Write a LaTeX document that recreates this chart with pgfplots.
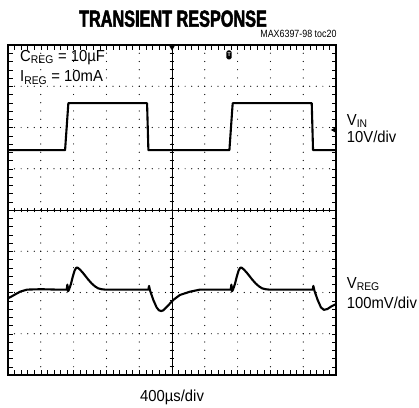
\documentclass[border=0pt]{standalone}
\usepackage{pgfplots}
\pgfplotsset{compat=1.18}
\usetikzlibrary{shapes.geometric}
\usepackage{fontspec}
\setmainfont{Liberation Sans}[FakeStretch=0.93]
\newfontfamily\titlefont{Liberation Sans}[FakeStretch=0.70, FakeBold=2.2]
\newfontfamily\smallfont{Liberation Sans}[FakeStretch=0.85]

\pgfplotstableread{
x y
0 1.45
1.74 1.45
1.84 2.59
4.24 2.59
4.28 1.45
6.75 1.45
6.85 2.59
9.26 2.59
9.30 1.45
10 1.45
}\vin

\pgfplotstableread{
x y
0 -2.14
0.10 -2.10
0.21 -2.05
0.37 -1.98
0.58 -1.93
1.00 -1.92
1.50 -1.93
1.79 -1.93
1.81 -1.81
1.83 -1.97
1.86 -1.93
1.92 -1.79
1.98 -1.60
2.03 -1.47
2.08 -1.40
2.13 -1.40
2.20 -1.45
2.28 -1.52
2.35 -1.59
2.45 -1.69
2.55 -1.78
2.65 -1.85
2.75 -1.90
2.85 -1.92
2.96 -1.93
4.28 -1.93
4.30 -1.84
4.33 -1.95
4.43 -2.18
4.53 -2.36
4.60 -2.43
4.67 -2.45
4.74 -2.43
4.84 -2.35
5.04 -2.18
5.24 -2.06
5.55 -1.98
5.85 -1.93
6.79 -1.93
6.81 -1.81
6.83 -1.97
6.86 -1.93
6.92 -1.79
6.98 -1.60
7.03 -1.47
7.08 -1.40
7.13 -1.40
7.20 -1.45
7.28 -1.52
7.35 -1.59
7.45 -1.69
7.55 -1.78
7.65 -1.85
7.75 -1.90
7.85 -1.92
7.96 -1.93
9.29 -1.93
9.31 -1.84
9.34 -1.95
9.44 -2.18
9.54 -2.36
9.63 -2.42
9.74 -2.40
9.85 -2.34
10.0 -2.28
}\vreg

\begin{document}
\begin{tikzpicture}[x=1bp,y=1bp]
\useasboundingbox (0,0) rectangle (419,408);
% centre cross with ticks
\begin{axis}[at={(8bp,33bp)}, anchor=south west, scale only axis,
  width=328bp, height=330bp,
  xmin=-5, xmax=5, ymin=-4, ymax=4,
  axis lines=center, axis line style={-, line width=0.6bp, black},
  xtick={-5,...,5}, ytick={-4,...,4},
  minor x tick num=4, minor y tick num=4,
  xticklabels={}, yticklabels={},
  tick align=center, major tick length=4.5bp, minor tick length=4.5bp,
  tick style={black, line width=0.6bp}]
\end{axis}
% main axis
\begin{axis}[at={(8bp,33bp)}, anchor=south west, scale only axis,
  width=328bp, height=330bp,
  xmin=0, xmax=10, ymin=-4, ymax=4,
  xtick={0,...,10}, ytick={-4,...,4},
  minor x tick num=4, minor y tick num=4,
  xticklabels={}, yticklabels={},
  tick align=inside, major tick length=4.5bp, minor tick length=4.5bp,
  tick style={black, line width=0.5bp},
  grid=major,
  major x grid style={black, line width=1.2bp, line cap=round, dash pattern=on 0bp off 8.25bp},
  major y grid style={black, line width=1.2bp, line cap=round, dash pattern=on 0bp off 6.56bp},
  axis line style={line width=2.6bp, black},
  clip=false]
\addplot[black, line width=2.1bp, line join=round] table[x=x,y=y] {\vin};
\addplot[black, line width=2.1bp, line join=round] table[x=x,y=y] {\vreg};
\node[fill=black, rounded corners=1.6bp, minimum width=5.2bp, minimum height=9bp, inner sep=0pt] at (axis cs:6.74,3.76) {};
\node[text=white, inner sep=0pt, font=\fontsize{5.5}{5.5}\selectfont\bfseries] at (axis cs:6.74,3.76) {T};
\node[isosceles triangle, isosceles triangle apex angle=60, shape border rotate=-90, fill=black, inner sep=0pt, minimum size=4.5bp, anchor=apex] at ([yshift=-6bp]axis cs:5,4) {};
\node[isosceles triangle, isosceles triangle apex angle=60, shape border rotate=180, fill=black, inner sep=0pt, minimum size=4.5bp, anchor=apex] at ([xshift=-5.5bp]axis cs:10,1.94) {};
\end{axis}
% texts
\node[anchor=base, inner sep=0pt, font=\titlefont\bfseries\fontsize{23.3}{26}\selectfont] at (173,381.3) {TRANSIENT RESPONSE};
\node[anchor=base east, inner sep=0pt, font=\smallfont\fontsize{10.5}{12}\selectfont] at (336.7,370.3) {MAX6397-98 toc20};
\node[anchor=base west, inner sep=0pt, font=\fontsize{16}{18}\selectfont] at (20,347) {C\textsubscript{REG} = 10µF};
\node[anchor=base west, inner sep=0pt, font=\fontsize{16}{18}\selectfont] at (20,326.3) {I\textsubscript{REG} = 10mA};
\node[anchor=base west, inner sep=0pt, font=\fontsize{16}{18}\selectfont] at (346.7,283) {V\textsubscript{IN}};
\node[anchor=base west, inner sep=0pt, font=\fontsize{16}{18}\selectfont] at (346.7,265.3) {10V/div};
\node[anchor=base west, inner sep=0pt, font=\fontsize{16}{18}\selectfont] at (346.7,119.7) {V\textsubscript{REG}};
\node[anchor=base west, inner sep=0pt, font=\fontsize{16}{18}\selectfont] at (346.7,99.7) {100mV/div};
\node[anchor=base west, inner sep=0pt, font=\fontsize{16}{18}\selectfont] at (140,6.3) {400µs/div};
\end{tikzpicture}
\end{document}
